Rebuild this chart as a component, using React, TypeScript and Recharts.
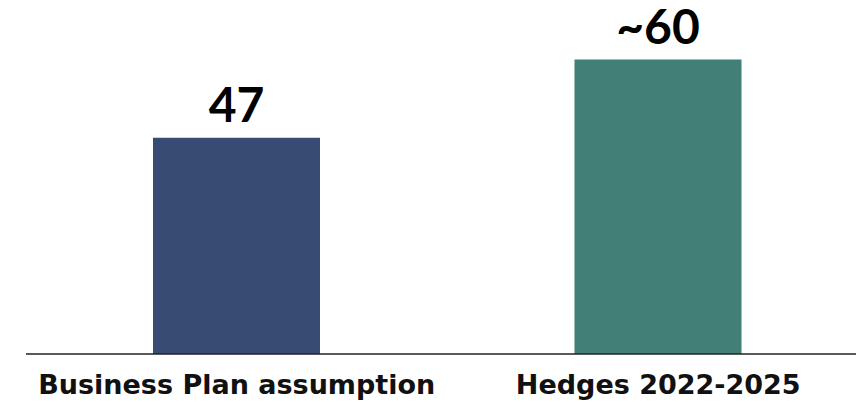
import React from "react";
import { BarChart, Bar, XAxis, YAxis, LabelList, Cell } from "recharts";

const categories = ["Business Plan assumption", "Hedges 2022-2025"];
const values = [47, 64];
const valueLabels = ["47", "~60"];
const colors = ["#384B73", "#417F77"];

const data = categories.map((name, i) => ({
  name,
  value: values[i],
  label: valueLabels[i],
}));

const LABEL_FONT = "Lato, 'Open Sans', sans-serif";
const TICK_FONT = "'DejaVu Sans', 'Open Sans', sans-serif";

const App = () => {
  return (
    <div style={{ position: "absolute", top: 0, left: 0, background: "#fff" }}>
      <BarChart
        width={856}
        height={402}
        data={data}
        margin={{ top: 9, right: -13, left: 26, bottom: 0 }}
        barCategoryGap="30%"
      >
        <XAxis
          dataKey="name"
          axisLine={{ stroke: "#222", strokeWidth: 1.5 }}
          tickLine={false}
          tickSize={0}
          tickMargin={21}
          height={48}
          interval={0}
          tick={{ fill: "#111", fontSize: 27, fontWeight: 700, fontFamily: TICK_FONT }}
        />
        <YAxis hide domain={[0, 75]} />
        <Bar dataKey="value" barSize={167} isAnimationActive={false}>
          {data.map((d, i) => (
            <Cell key={d.name} fill={colors[i]} />
          ))}
          <LabelList
            dataKey="label"
            position="top"
            offset={16}
            style={{ fill: "#000", fontSize: 48, fontWeight: 700, fontFamily: LABEL_FONT }}
          />
        </Bar>
      </BarChart>
    </div>
  );
};

export default App;
